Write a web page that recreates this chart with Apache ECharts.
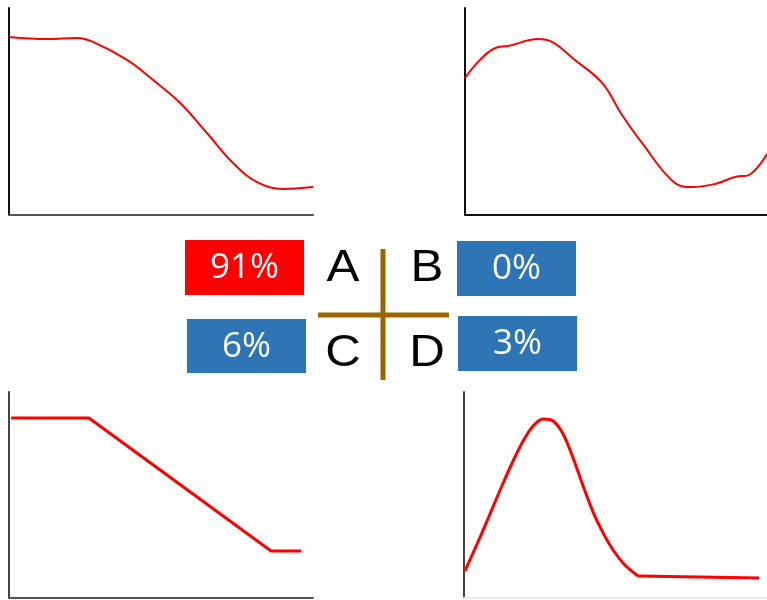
<!DOCTYPE html>
<html>
<head>
<meta charset="utf-8">
<script src="https://cdn.jsdelivr.net/npm/echarts@6/dist/echarts.min.js"></script>
<style>
html,body{margin:0;padding:0;background:#fff;}
#chart1{width:767px;height:600px;}
</style>
</head>
<body>
<div id="chart1"></div>
<script>
// curves, x and y both on a 0-100 scale
var curveA=[[0,86],[12.5,85],[22.4,85.5],[27.6,83.6],[38.8,74.9],[47.4,65.2],[56.3,54.1],[65.1,39.6],[73.7,25.1],[81.6,15.9],[90.1,12.6],[100,13.5]];
var curveB=[[0,66.2],[10.9,81.2],[14.2,81.6],[24.2,85],[28.8,83.6],[36.4,74.9],[45.4,63.8],[52,48.3],[58.6,34.8],[69.5,15.5],[75.2,13.5],[82.8,15],[91.7,18.8],[92.7,18.8],[100,29.5]];
var curveC=[[0.7,87.4],[26.3,87.4],[86.2,22.8],[96.1,22.8]];
var curveD=[[0.3,13.1],[4.3,26.2],[8.3,39.8],[12.2,53.4],[16.2,66.5],[19.5,76.2],[22.8,83.5],[26.1,86.9],[29.4,85.9],[32.7,79.6],[36,68],[39.3,54.4],[42.6,41.7],[45.9,31.6],[49.2,23.3],[53.1,16],[57.4,10.7]];
var curveDtail=[[57.4,10.7],[97.4,9.7]];
var quadrants=["A","B","C","D"];
var percents=[91,0,6,3];

var myChart=echarts.init(document.getElementById("chart1"));

var grids=[
    {left:9,top:8,width:304,height:207},
    {left:465,top:8,width:302,height:207},
    {left:9,top:392,width:304,height:206},
    {left:464,top:392,width:303,height:206}
];
var yColors=["#111","#111","#444","#444"];
var xColors=["#555","#111","#555","#e8e8e8"];

var xAxes=[],yAxes=[];
for(var i=0;i<4;i++){
    xAxes.push({gridIndex:i,type:"value",min:0,max:100,
        axisLine:{show:true,onZero:false,lineStyle:{color:xColors[i],width:2}},
        axisTick:{show:false},axisLabel:{show:false},splitLine:{show:false}});
    yAxes.push({gridIndex:i,type:"value",min:0,max:100,
        axisLine:{show:true,onZero:false,lineStyle:{color:yColors[i],width:2}},
        axisTick:{show:false},axisLabel:{show:false},splitLine:{show:false}});
}

var lineSeries=function (idx,data,smooth,width) {
    return {type:"line",xAxisIndex:idx,yAxisIndex:idx,data:data,smooth:smooth,
        symbol:"none",lineStyle:{color:"#ff0000",width:width}};
};

// center boxes & letters
var boxes=[
    {x:185,y:240,w:119,h:55},
    {x:457,y:241,w:119,h:55},
    {x:187,y:319,w:119,h:54},
    {x:458,y:316,w:119,h:55}
];
var letterPos=[[343,269],[427,269],[343,354],[427,354]];
var maxP=Math.max.apply(null,percents);
var graphic=[];
percents.forEach(function (p,k) {
    var b=boxes[k];
    graphic.push({type:"rect",shape:{x:b.x,y:b.y,width:b.w,height:b.h},
        style:{fill:p===maxP?"#ff0000":"#2e75b6"}});
    graphic.push({type:"text",x:b.x+b.w/2,y:b.y+b.h/2+1,
        style:{text:p+"%",fill:"#fff",font:"35px 'Open Sans'",align:"center",verticalAlign:"middle"}});
});
quadrants.forEach(function (q,k) {
    graphic.push({type:"text",x:letterPos[k][0],y:letterPos[k][1],scaleX:1.12,
        style:{text:q,fill:"#000",font:"44px 'Liberation Sans'",align:"center",verticalAlign:"middle"}});
});
graphic.push({type:"line",shape:{x1:383,y1:249,x2:383,y2:380},style:{stroke:"#9a6600",lineWidth:5}});
graphic.push({type:"line",shape:{x1:318,y1:315,x2:449,y2:315},style:{stroke:"#9a6600",lineWidth:5}});

var option={
    animation:false,
    grid:grids,
    xAxis:xAxes,
    yAxis:yAxes,
    series:[
        lineSeries(0,curveA,0.4,2),
        lineSeries(1,curveB,0.4,2),
        lineSeries(2,curveC,false,3),
        lineSeries(3,curveD,0.3,3),
        lineSeries(3,curveDtail,false,3)
    ],
    graphic:graphic
};
myChart.setOption(option);
</script>
</body>
</html>
